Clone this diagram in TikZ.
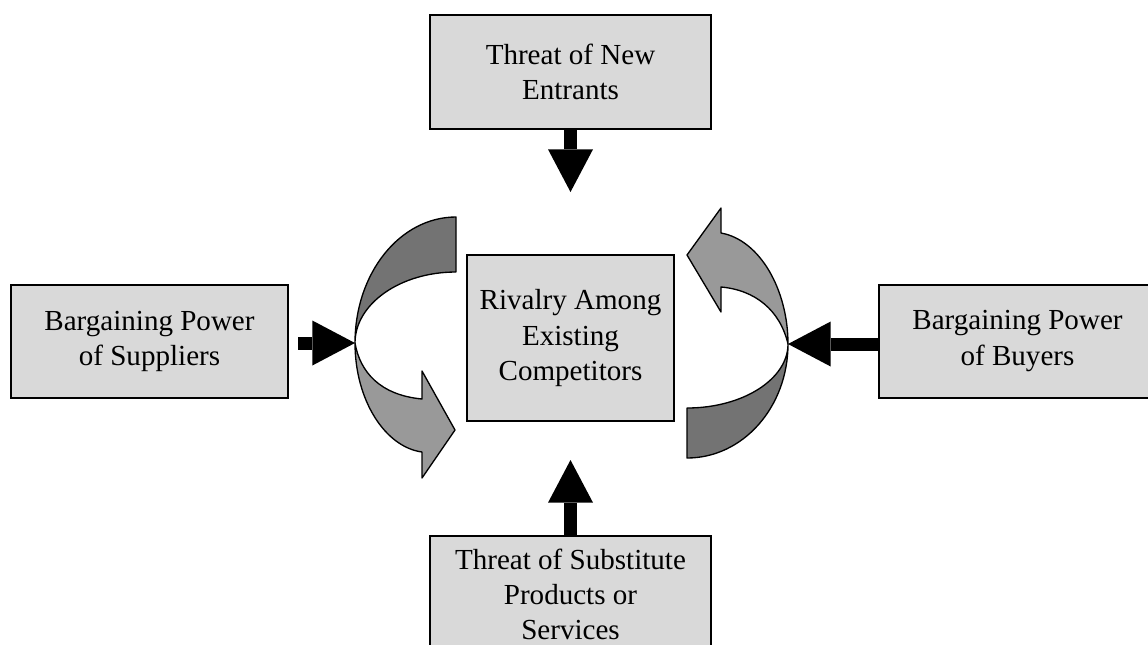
\documentclass[tikz,border=0pt]{standalone}
\usepackage{fontspec}
\setmainfont{Liberation Serif}
\usepackage{tikz}
\usetikzlibrary{arrows.meta}

\colorlet{boxgray}{black!15}
\colorlet{darkribbon}{black!55}
\colorlet{lightribbon}{black!40}

\begin{document}
\begin{tikzpicture}[x=0.75pt,y=0.75pt,yscale=-1,xscale=1,
  forcebox/.style={draw, line width=1.5pt, fill=boxgray, align=center, inner sep=0pt,
    font=\fontsize{21.8}{26.3}\selectfont},
  pusharrow/.style={line width=9.75pt, -{Triangle[width=33.75pt,length=32pt,line width=0pt]}},
  ribbon/.style={draw, line width=1pt, line join=round}]
\useasboundingbox (0,0) rectangle (1148,644);

% Text Node
\node[forcebox, minimum width=210.75pt, minimum height=85.5pt] (entrants) at (570.5,72) {Threat of New\\Entrants};
% Text Node
\node[forcebox, minimum width=155.25pt, minimum height=124.5pt] (rivalry) at (570.5,338) {Rivalry Among\\Existing\\Competitors};
% Text Node
\node[forcebox, minimum width=207.75pt, minimum height=84.75pt] (suppliers) at (149.5,341) {Bargaining Power\\of Suppliers};
% Text Node
\node[forcebox, minimum width=207.75pt, minimum height=84.75pt] (buyers) at (1017.5,341) {Bargaining Power\\of Buyers};
% Text Node
\node[forcebox, minimum width=210.75pt, minimum height=87pt] (substitutes) at (570.5,594) {Threat of Substitute\\Products or\\Services};

% arrow ends
\coordinate (lmeet) at (355,343);
\coordinate (rmeet) at (788,344);
\coordinate (ttip) at (570.5,192);
\coordinate (btip) at (570.5,460);

%Curved ribbons, left side
\filldraw[ribbon, fill=darkribbon] (456,217) -- (456,272) .. controls (400,272) and (355,304) .. (lmeet) .. controls (355,273) and (400,217) .. cycle;
\filldraw[ribbon, fill=lightribbon] (lmeet) .. controls (355,400) and (385,447) .. (422,452) -- (422,478) -- (455,430) -- (422,371) -- (422,399) .. controls (380,395) and (360,372) .. cycle;
%Curved ribbons, right side
\filldraw[ribbon, fill=lightribbon] (rmeet) .. controls (788,290) and (760,240) .. (721,233) -- (721,208) -- (687,255) -- (721,312) -- (721,287) .. controls (755,290) and (780,310) .. cycle;
\filldraw[ribbon, fill=darkribbon] (rmeet) .. controls (788,407) and (743,458) .. (687,458) -- (687,408) .. controls (743,408) and (788,379) .. cycle;

%Straight arrows
\draw[pusharrow] (entrants.south) -- (ttip);
\draw[pusharrow] (substitutes.north) -- (btip);
\draw[pusharrow] (suppliers.east |- lmeet) ++(9,0) -- (lmeet);
\draw[pusharrow] (buyers.west |- rmeet) -- (rmeet);

\end{tikzpicture}
\end{document}
